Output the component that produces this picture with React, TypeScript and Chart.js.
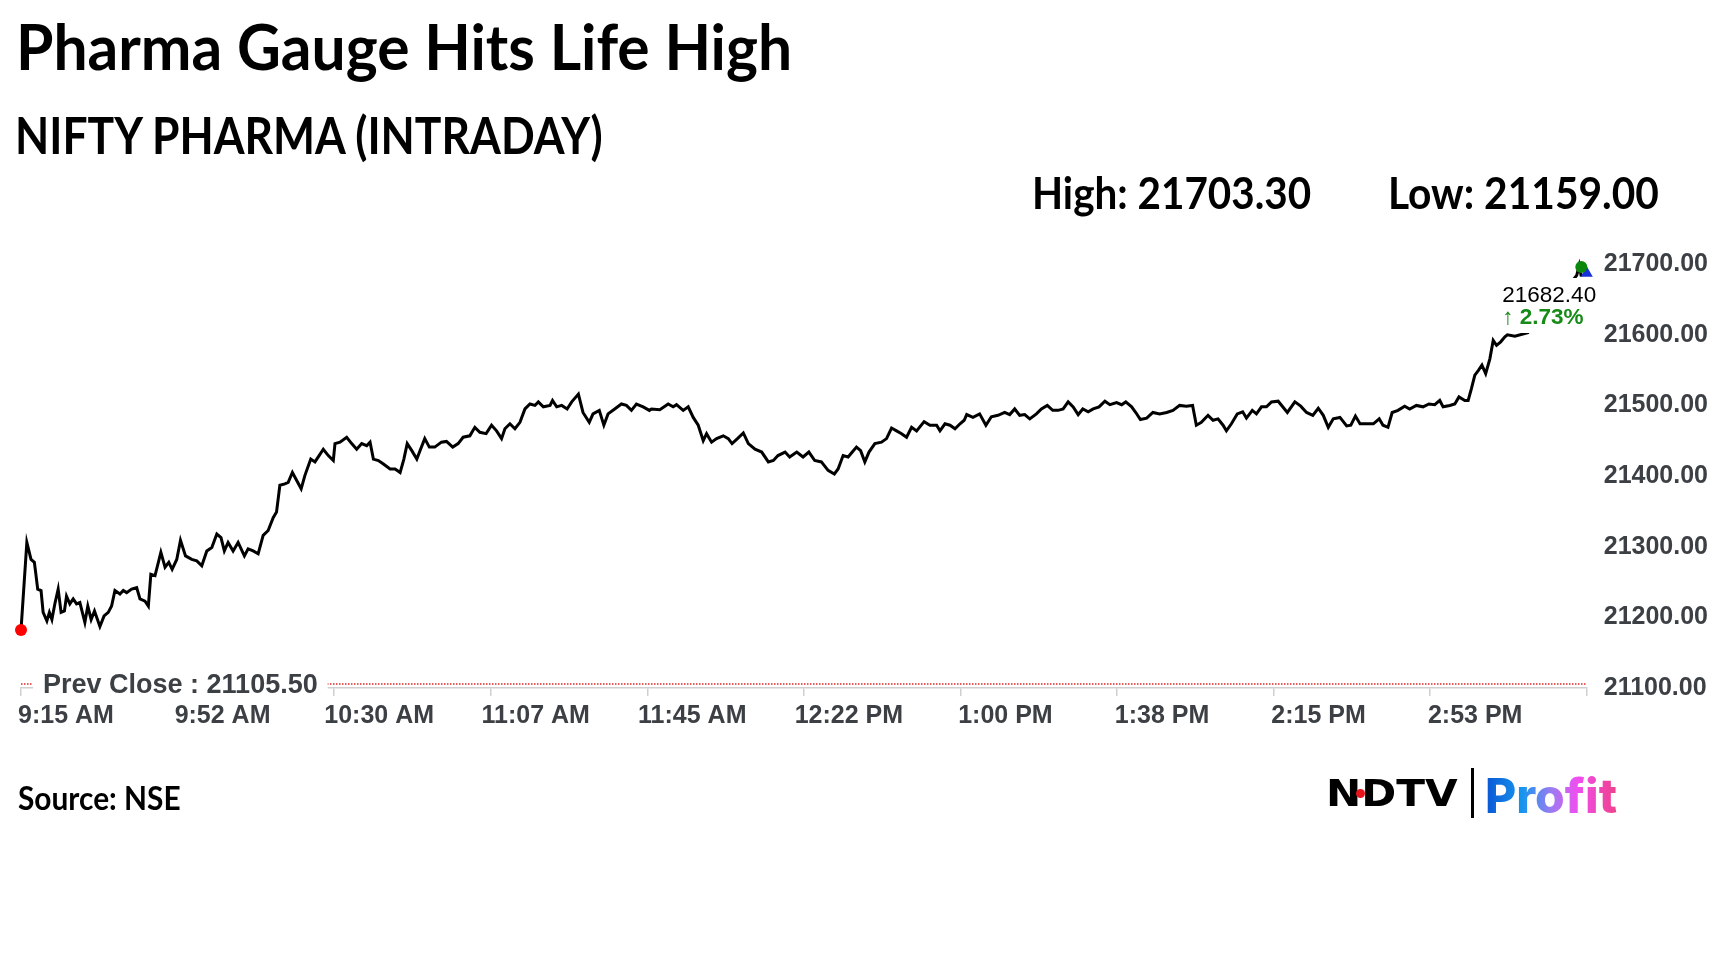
import React, { useEffect, useRef } from "react";
import { Chart, registerables } from "chart.js";

Chart.register(...registerables);

// ---------- data ----------
const titleText = "Pharma Gauge Hits Life High";
const subtitleText = "NIFTY PHARMA (INTRADAY)";
const sourceText = "Source: NSE";

// x ticks: minutes after 9:15 AM
const xTickMinutes = [0, 37.5, 75, 112.5, 150, 187.5, 225, 262.5, 300, 337.5, 375];
const xTickLabels = ["9:15 AM", "9:52 AM", "10:30 AM", "11:07 AM", "11:45 AM", "12:22 PM", "1:00 PM", "1:38 PM", "2:15 PM", "2:53 PM", ""];
const yTicks = [21100, 21200, 21300, 21400, 21500, 21600, 21700];

const prevClose = 21105.5;
const dayHigh = 21703.3;
const dayLow = 21159.0;
const lastValue = 21682.4;
const changePct = 2.73;

// [minutes after 9:15, index value]
const morningSession: Array<[number, number]> = [
  [0, 21182], [1.4, 21306], [2.4, 21282], [3.2, 21278], [3.5, 21264], [4.0, 21240], [4.8, 21238], [5.3, 21207], [6.2, 21195], [6.8, 21207],
  [7.4, 21197], [8.1, 21219], [8.9, 21240], [9.6, 21207], [10.4, 21209], [10.9, 21230], [11.7, 21219], [12.5, 21226], [13.3, 21219], [14.1, 21221],
  [15.3, 21193], [16.0, 21216], [16.8, 21197], [17.6, 21209], [18.9, 21187], [19.9, 21202], [20.9, 21207], [21.7, 21216], [22.5, 21238], [23.7, 21233],
  [24.5, 21238], [25.3, 21235], [26.5, 21240], [27.7, 21242], [28.5, 21226], [29.7, 21223], [30.5, 21216], [31.1, 21261], [32.1, 21259], [33.5, 21292],
  [34.5, 21271], [35.4, 21278], [36.2, 21268], [37.3, 21282], [38.2, 21309], [39.4, 21287], [40.9, 21282], [42.1, 21280], [43.3, 21273], [44.5, 21294],
  [45.7, 21299], [46.9, 21318], [47.9, 21313], [48.7, 21294], [49.6, 21306], [50.8, 21294], [52.0, 21306], [53.5, 21287], [54.4, 21297], [55.6, 21294],
  [56.8, 21290], [58.0, 21316], [59.2, 21323], [60.4, 21341], [61.2, 21349], [62.0, 21387], [63.2, 21389], [64.0, 21391], [65.0, 21405], [66.0, 21394],
  [67.1, 21382], [68.0, 21401], [69.4, 21424], [70.4, 21420], [71.4, 21429], [72.4, 21438], [73.6, 21429], [74.8, 21422],
];

const lateMorningSession: Array<[number, number]> = [
  [75.2, 21446], [76.4, 21448], [78.0, 21455], [79.2, 21446], [80.4, 21438], [81.6, 21446], [82.8, 21443], [83.6, 21448], [84.4, 21424], [85.6, 21422],
  [86.8, 21417], [88.4, 21410], [89.6, 21410], [90.8, 21405], [91.7, 21424], [92.5, 21446], [93.6, 21436], [94.8, 21424], [95.7, 21438], [96.7, 21453],
  [97.8, 21441], [99.1, 21441], [100.7, 21448], [101.9, 21449], [103.4, 21441], [104.7, 21446], [105.9, 21455], [107.5, 21457], [108.7, 21469], [109.9, 21462],
  [111.4, 21460], [112.7, 21472], [113.9, 21464], [115.1, 21453], [115.9, 21467], [117.1, 21474], [118.3, 21467], [119.5, 21476], [120.7, 21495], [121.9, 21502],
  [123.1, 21500], [123.9, 21505], [125.1, 21498], [126.7, 21500], [127.3, 21507], [128.3, 21498], [129.5, 21500], [130.8, 21495], [131.9, 21505], [133.5, 21516],
  [134.6, 21490], [136.1, 21476], [137.0, 21488], [138.5, 21493], [139.6, 21472], [140.6, 21488], [142.2, 21495], [143.8, 21502], [145.0, 21500], [146.2, 21493],
  [147.4, 21502], [149.0, 21498], [150.5, 21493],
];

const middaySession: Array<[number, number]> = [
  [151.0, 21495], [153.0, 21494], [155.0, 21502], [156.2, 21498], [157.0, 21501], [158.6, 21493], [159.8, 21498], [161.0, 21483], [162.2, 21472], [163.4, 21450],
  [164.2, 21460], [165.4, 21448], [166.6, 21453], [168.2, 21457], [169.4, 21453], [170.3, 21446], [171.6, 21453], [173.0, 21461], [174.2, 21446], [175.8, 21438],
  [177.4, 21434], [179.0, 21420], [180.2, 21422], [181.3, 21429], [183.0, 21434], [184.1, 21427], [185.8, 21434], [187.3, 21427], [188.7, 21434], [190.1, 21422],
  [191.7, 21420], [193.3, 21408], [194.8, 21403], [195.7, 21410], [196.9, 21429], [198.1, 21427], [199.1, 21434], [200.1, 21441], [201.1, 21436], [202.1, 21420],
  [203.1, 21434], [204.5, 21446], [206.1, 21448], [207.3, 21453], [208.5, 21468], [209.7, 21464], [210.9, 21460], [212.1, 21455], [213.3, 21469], [214.5, 21464],
  [216.3, 21477], [217.7, 21472], [219.3, 21472], [220.1, 21464], [221.3, 21474], [222.5, 21472], [223.7, 21467], [224.9, 21474], [225.9, 21479],
];

const afternoonSession: Array<[number, number]> = [
  [226.5, 21487], [228.0, 21483], [229.6, 21488], [231.1, 21472], [232.4, 21484], [234.0, 21486], [235.6, 21490], [236.8, 21487], [238.0, 21495], [239.2, 21486],
  [240.4, 21487], [241.6, 21481], [243.2, 21488], [244.4, 21495], [245.8, 21500], [247.1, 21493], [248.4, 21493], [249.6, 21495], [250.8, 21505], [252.0, 21498],
  [253.2, 21487], [254.3, 21495], [255.6, 21491], [256.8, 21495], [258.2, 21498], [259.6, 21506], [260.8, 21501], [262.4, 21504], [263.6, 21501], [264.6, 21505],
  [266.0, 21498], [267.0, 21490], [268.1, 21480], [269.6, 21482], [271.1, 21490], [272.7, 21488], [274.4, 21490], [275.9, 21493], [277.5, 21500], [279.1, 21499],
  [280.6, 21500], [281.5, 21472], [282.7, 21476], [284.3, 21486], [285.5, 21479], [286.7, 21481], [287.9, 21472], [288.7, 21464], [289.9, 21474], [291.3, 21488],
  [292.6, 21491], [293.5, 21482], [294.9, 21493], [295.9, 21488], [297.1, 21498], [298.3, 21498], [299.5, 21505], [301.1, 21506],
];

const closingSession: Array<[number, number]> = [
  [303.3, 21490], [305.1, 21505], [306.5, 21499], [307.9, 21490], [309.4, 21486], [310.7, 21496], [311.9, 21486], [313.1, 21469], [314.3, 21481], [315.9, 21483],
  [317.5, 21471], [318.5, 21472], [319.6, 21485], [320.7, 21474], [322.3, 21474], [323.9, 21474], [325.3, 21481], [326.2, 21472], [327.4, 21469], [328.4, 21490],
  [329.8, 21493], [331.4, 21499], [332.6, 21495], [334.2, 21500], [335.8, 21498], [337.2, 21502], [338.6, 21501], [339.8, 21507], [340.6, 21498], [342.2, 21500],
  [343.4, 21502], [344.4, 21512], [345.8, 21507], [346.6, 21507], [347.4, 21524], [348.2, 21543], [349.1, 21550], [349.9, 21557], [350.8, 21545], [351.8, 21566],
  [352.6, 21592], [353.4, 21585], [354.4, 21590], [355.4, 21597], [356.0, 21600], [357.8, 21598], [360.9, 21603], [363.8, 21625], [366.6, 21640], [369.2, 21662],
  [371.4, 21675], [372.6, 21684], [373.2, 21698], [373.7, 21682.4],
];

// markers near the close: [minutes, value]
const lastMarker: [number, number] = [373.7, 21696];
const highMarker: [number, number] = [375.0, 21687];

// ---------- chart ----------
const AXIS_FONT = '"Liberation Sans", Arial, sans-serif';
const AXIS_COLOR = "#3c4044";

const overlayPlugin = {
  id: "overlayPlugin",
  afterDraw(chart: any) {
    const { ctx, chartArea, scales } = chart;
    const x = scales.x;
    const y = scales.y;
    ctx.save();
    // previous close dotted line
    const py = y.getPixelForValue(prevClose);
    ctx.strokeStyle = "#e32626";
    ctx.lineWidth = 1.5;
    ctx.setLineDash([1.5, 1.5]);
    ctx.beginPath();
    ctx.moveTo(chartArea.left, py);
    ctx.lineTo(chartArea.right, py);
    ctx.stroke();
    ctx.setLineDash([]);
    ctx.font = `bold 27px ${AXIS_FONT}`;
    const pcLabel = `Prev Close : ${prevClose.toFixed(2)}`;
    const w = ctx.measureText(pcLabel).width;
    ctx.fillStyle = "#ffffff";
    ctx.fillRect(chartArea.left + 12, py - 15, w + 20, 29);
    ctx.fillStyle = AXIS_COLOR;
    ctx.textBaseline = "middle";
    ctx.textAlign = "left";
    ctx.fillText(pcLabel, chartArea.left + 22, py + 1.5);

    // last value label
    const lx = x.getPixelForValue(lastMarker[0]);
    const boxL = lx - 84;
    ctx.fillStyle = "#ffffff";
    ctx.fillRect(boxL, 278, 102, 55);
    ctx.textBaseline = "alphabetic";
    ctx.fillStyle = "#000000";
    ctx.font = `22.5px ${AXIS_FONT}`;
    ctx.fillText(lastValue.toFixed(2), lx - 79, 301.5);
    ctx.fillStyle = "#178a17";
    ctx.font = `bold 22.5px ${AXIS_FONT}`;
    ctx.fillText(`\u2191 ${changePct.toFixed(2)}%`, lx - 79, 324);
    ctx.restore();
  },
};

function toPoints(arr: Array<[number, number]>) {
  return arr.map(([m, v]) => ({ x: m, y: v }));
}

function Txt(props: { x: number; base: number; size: number; asc: number; family: string; weight?: number; sx?: number; color?: string; children: React.ReactNode; extra?: React.CSSProperties }) {
  const { x, base, size, asc, family, weight = 700, sx = 1, color = "#000", children, extra } = props;
  return (
    <div
      style={{
        position: "absolute",
        left: x,
        top: base - asc * size,
        fontSize: size,
        lineHeight: `${size}px`,
        fontFamily: family,
        fontWeight: weight,
        color,
        whiteSpace: "nowrap",
        transform: `scaleX(${sx})`,
        transformOrigin: "left top",
        ...extra,
      }}
    >
      {children}
    </div>
  );
}

export default function App() {
  const ref = useRef<HTMLCanvasElement | null>(null);

  useEffect(() => {
    if (!ref.current) return;
    const series = [...morningSession, ...lateMorningSession, ...middaySession, ...afternoonSession, ...closingSession];
    const chart = new Chart(ref.current, {
      type: "line",
      data: {
        datasets: [
          {
            label: "Last",
            data: toPoints([lastMarker]),
            showLine: false,
            pointRadius: 6,
            pointBackgroundColor: "#0b870b",
            pointBorderWidth: 0,
            clip: false,
            order: 1,
          } as any,
          {
            label: "High",
            data: toPoints([highMarker]),
            showLine: false,
            pointStyle: "triangle",
            pointRadius: 7,
            pointBackgroundColor: "#1631d6",
            pointBorderWidth: 0,
            clip: false,
            order: 2,
          } as any,
          {
            label: "NIFTY PHARMA",
            data: toPoints(series),
            borderColor: "#000000",
            borderWidth: 3,
            borderJoinStyle: "miter",
            tension: 0,
            pointRadius: (c: any) => (c.dataIndex === 0 ? 6 : 0),
            pointBackgroundColor: "#ff0000",
            pointBorderWidth: 0,
            clip: false,
            order: 3,
          } as any,
        ],
      },
      options: {
        animation: false,
        responsive: false,
        devicePixelRatio: 1,
        events: [],
        layout: { padding: { left: 21, right: 3, top: 250, bottom: 236 } },
        plugins: { legend: { display: false }, tooltip: { enabled: false } },
        scales: {
          x: {
            type: "linear",
            position: "bottom",
            min: 0,
            max: 375,
            afterBuildTicks: (s: any) => {
              s.ticks = xTickMinutes.map((v) => ({ value: v }));
            },
            afterFit: (s: any) => {
              s.paddingLeft = 0;
              s.paddingRight = 0;
            },
            grid: { display: true, drawOnChartArea: false, drawTicks: true, tickLength: 8, color: "#cfcfcf", lineWidth: 1.5 },
            border: { display: true, color: "#cfcfcf", width: 1.5 },
            ticks: {
              autoSkip: false,
              maxRotation: 0,
              minRotation: 0,
              labelOffset: 45,
              padding: 5,
              color: AXIS_COLOR,
              font: { family: AXIS_FONT, size: 25, weight: "bold" },
              callback: (_v: any, i: number) => xTickLabels[i] ?? "",
            },
          },
          y: {
            type: "linear",
            position: "right",
            min: 21100,
            max: 21720,
            afterBuildTicks: (s: any) => {
              s.ticks = yTicks.map((v) => ({ value: v }));
            },
            grid: { display: false, drawTicks: false },
            border: { display: false },
            ticks: {
              padding: 17,
              color: AXIS_COLOR,
              font: { family: AXIS_FONT, size: 25, weight: "bold" },
              callback: (v: any) => Number(v).toFixed(2),
            },
          },
        },
      } as any,
      plugins: [overlayPlugin],
    });
    return () => chart.destroy();
  }, []);

  const LATO = "Lato, sans-serif";
  return (
    <div style={{ position: "absolute", left: 0, top: 0, width: 1728, height: 972, background: "#fff", overflow: "hidden" }}>
      <canvas ref={ref} width={1728} height={972} style={{ position: "absolute", left: 0, top: 0, width: 1728, height: 972 }} />
      <Txt x={16} base={69.4} size={63} asc={0.887} family={LATO} sx={0.961}>{titleText}</Txt>
      <Txt x={14.5} base={154.3} size={51} asc={0.887} family={LATO} sx={0.871}>{subtitleText}</Txt>
      <Txt x={1032} base={209.4} size={43} asc={0.887} family={LATO} sx={0.94}>{`High: ${dayHigh.toFixed(2)}`}</Txt>
      <Txt x={1388} base={209.4} size={43} asc={0.887} family={LATO} sx={0.946}>{`Low: ${dayLow.toFixed(2)}`}</Txt>
      <Txt x={17.6} base={810.7} size={31.7} asc={0.887} family={LATO} sx={0.942}>{sourceText}</Txt>
      {/* NDTV Profit logo */}
      <Txt x={1326} base={806.7} size={37} asc={0.846} family={'"DejaVu Sans", sans-serif'} sx={1.14}>NDTV</Txt>
      <div style={{ position: "absolute", left: 1355.5, top: 788.5, width: 9, height: 9, borderRadius: "50%", background: "#e8141c" }} />
      <div style={{ position: "absolute", left: 1471, top: 768, width: 3, height: 50, background: "#000" }} />
      <Txt
        x={1485}
        base={813}
        size={48}
        asc={0.863}
        family={"Inter, sans-serif"}
        weight={800}
        extra={{
          backgroundImage: "linear-gradient(90deg, #0a56d4 0%, #1596ee 28%, #9a7cf2 50%, #f04ff0 70%, #f0408a 100%)",
          WebkitBackgroundClip: "text",
          backgroundClip: "text",
          color: "transparent",
        }}
      >
        Profit
      </Txt>
    </div>
  );
}
